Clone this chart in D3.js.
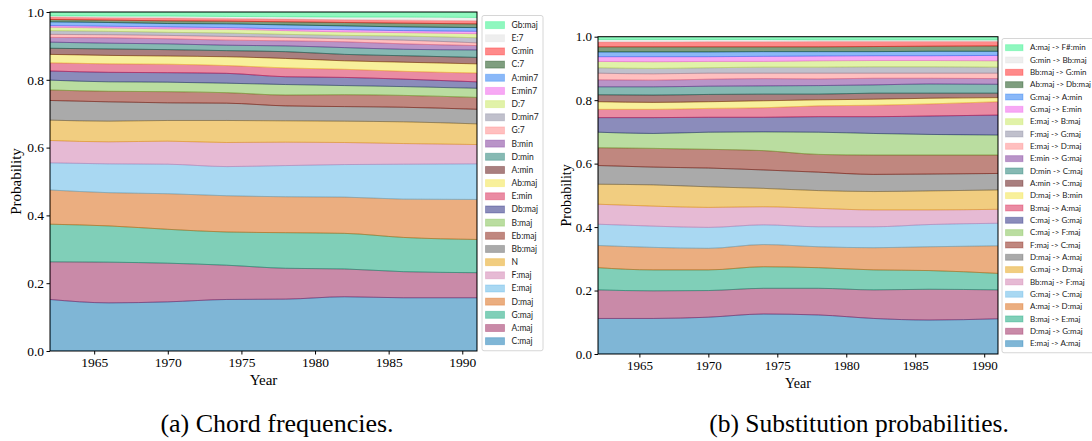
<!DOCTYPE html>
<html>
<head>
<meta charset="utf-8">
<script src="https://cdn.jsdelivr.net/npm/d3@7"></script>
<style>
  body { margin: 0; background: #fff; }
  svg { display: block; }
  .tick text { font-family: "Liberation Serif", serif; fill: #000; }
  .legend text { font-family: Lato, "Open Sans", sans-serif; fill: #222; }
</style>
</head>
<body>
<svg id="chart" width="1092" height="441"></svg>
<script>
// years
var years = [1962, 1966, 1970, 1974, 1978, 1982, 1986, 1991];
var xTicks = [1965, 1970, 1975, 1980, 1985, 1990];
var yTicks = [0, 0.2, 0.4, 0.6, 0.8, 1.0];

// stacking order, bottom first
var chordNames = ["C:maj", "A:maj", "G:maj", "D:maj", "E:maj", "F:maj", "N", "Bb:maj", "Eb:maj",
  "B:maj", "Db:maj", "E:min", "Ab:maj", "A:min", "D:min", "B:min", "G:7", "D:min7", "D:7",
  "E:min7", "A:min7", "C:7", "G:min", "E:7", "Gb:maj"];
var chordValues = [
  [0.152, 0.142, 0.145, 0.152, 0.153, 0.160, 0.157, 0.157],
  [0.111, 0.120, 0.114, 0.101, 0.091, 0.082, 0.077, 0.074],
  [0.111, 0.107, 0.100, 0.098, 0.105, 0.105, 0.101, 0.098],
  [0.101, 0.098, 0.105, 0.107, 0.106, 0.107, 0.113, 0.118],
  [0.080, 0.085, 0.087, 0.086, 0.092, 0.096, 0.103, 0.105],
  [0.066, 0.065, 0.068, 0.071, 0.069, 0.065, 0.061, 0.057],
  [0.060, 0.061, 0.061, 0.065, 0.063, 0.063, 0.064, 0.061],
  [0.058, 0.057, 0.052, 0.051, 0.044, 0.043, 0.043, 0.043],
  [0.031, 0.031, 0.033, 0.031, 0.032, 0.035, 0.035, 0.035],
  [0.029, 0.028, 0.028, 0.028, 0.031, 0.027, 0.026, 0.027],
  [0.027, 0.028, 0.028, 0.029, 0.023, 0.024, 0.022, 0.019],
  [0.024, 0.025, 0.025, 0.023, 0.026, 0.024, 0.023, 0.026],
  [0.025, 0.025, 0.024, 0.026, 0.028, 0.025, 0.027, 0.027],
  [0.018, 0.019, 0.019, 0.018, 0.020, 0.019, 0.019, 0.019],
  [0.018, 0.017, 0.017, 0.016, 0.017, 0.020, 0.019, 0.022],
  [0.014, 0.016, 0.015, 0.015, 0.015, 0.017, 0.016, 0.013],
  [0.009, 0.009, 0.010, 0.011, 0.010, 0.009, 0.011, 0.008],
  [0.011, 0.010, 0.009, 0.010, 0.009, 0.010, 0.012, 0.015],
  [0.010, 0.010, 0.010, 0.011, 0.011, 0.010, 0.010, 0.012],
  [0.005, 0.005, 0.006, 0.005, 0.005, 0.007, 0.006, 0.007],
  [0.011, 0.011, 0.010, 0.011, 0.012, 0.011, 0.011, 0.011],
  [0.007, 0.007, 0.008, 0.008, 0.009, 0.010, 0.011, 0.011],
  [0.007, 0.007, 0.008, 0.008, 0.008, 0.008, 0.009, 0.009],
  [0.004, 0.005, 0.006, 0.006, 0.007, 0.008, 0.009, 0.010],
  [0.011, 0.012, 0.012, 0.013, 0.014, 0.015, 0.015, 0.016]
];

var substitutionNames = ["E:maj -> A:maj", "D:maj -> G:maj", "B:maj -> E:maj", "A:maj -> D:maj",
  "G:maj -> C:maj", "Bb:maj -> F:maj", "G:maj -> D:maj", "D:maj -> A:maj", "F:maj -> C:maj",
  "C:maj -> F:maj", "C:maj -> G:maj", "B:maj -> A:maj", "D:maj -> B:min", "A:min -> C:maj",
  "D:min -> C:maj", "E:min -> G:maj", "E:maj -> D:maj", "F:maj -> G:maj", "E:maj -> B:maj",
  "G:maj -> E:min", "G:maj -> A:min", "Ab:maj -> Db:maj", "Bb:maj -> G:min", "G:min -> Bb:maj",
  "A:maj -> F#:min"];
var substitutionValues = [
  [0.112, 0.112, 0.116, 0.126, 0.123, 0.112, 0.107, 0.111],
  [0.090, 0.087, 0.084, 0.081, 0.084, 0.090, 0.097, 0.091],
  [0.070, 0.066, 0.065, 0.068, 0.065, 0.063, 0.059, 0.052],
  [0.070, 0.071, 0.068, 0.070, 0.066, 0.070, 0.075, 0.087],
  [0.067, 0.067, 0.066, 0.062, 0.063, 0.066, 0.070, 0.071],
  [0.063, 0.063, 0.063, 0.057, 0.058, 0.053, 0.046, 0.044],
  [0.063, 0.067, 0.065, 0.058, 0.056, 0.058, 0.060, 0.061],
  [0.059, 0.056, 0.059, 0.058, 0.058, 0.054, 0.053, 0.052],
  [0.056, 0.059, 0.059, 0.061, 0.056, 0.061, 0.060, 0.058],
  [0.049, 0.047, 0.054, 0.059, 0.070, 0.068, 0.065, 0.063],
  [0.046, 0.050, 0.047, 0.046, 0.049, 0.053, 0.058, 0.063],
  [0.026, 0.026, 0.028, 0.030, 0.034, 0.036, 0.038, 0.042],
  [0.024, 0.022, 0.021, 0.022, 0.019, 0.019, 0.018, 0.013],
  [0.022, 0.023, 0.023, 0.021, 0.018, 0.019, 0.016, 0.014],
  [0.025, 0.026, 0.026, 0.026, 0.027, 0.026, 0.029, 0.028],
  [0.022, 0.021, 0.022, 0.023, 0.021, 0.021, 0.018, 0.018],
  [0.021, 0.020, 0.019, 0.017, 0.018, 0.016, 0.016, 0.017],
  [0.017, 0.017, 0.017, 0.019, 0.019, 0.020, 0.020, 0.019],
  [0.020, 0.021, 0.020, 0.018, 0.020, 0.020, 0.020, 0.020],
  [0.015, 0.016, 0.015, 0.016, 0.015, 0.015, 0.015, 0.017],
  [0.015, 0.015, 0.015, 0.015, 0.014, 0.013, 0.014, 0.013],
  [0.016, 0.016, 0.016, 0.015, 0.015, 0.016, 0.016, 0.017],
  [0.015, 0.015, 0.016, 0.016, 0.017, 0.016, 0.015, 0.014],
  [0.008, 0.008, 0.007, 0.007, 0.005, 0.005, 0.005, 0.005],
  [0.009, 0.009, 0.009, 0.009, 0.010, 0.010, 0.010, 0.010]
];

// drawn at half opacity, like the original
var palette = ["#006dad", "#931551", "#019f71", "#d75d01", "#53b1e5", "#cd75a9", "#e39b01",
  "#555555", "#810f00", "#75bb41", "#171977", "#d51747", "#f1e137", "#530000", "#0d7367",
  "#732991", "#ff7f7f", "#818199", "#c3e551", "#ef51e9", "#1571f1", "#003d00", "#ff1515",
  "#dddddd", "#1fef7f"];

var svg = d3.select("#chart");

function drawPanel(opt) {
  var x = d3.scaleLinear().domain([1962, 1991]).range([opt.left, opt.right]);
  var y = d3.scaleLinear().domain([0, 1]).range([opt.bottom, opt.top]);

  var rows = years.map(function (yr, i) {
    var r = { year: yr };
    opt.names.forEach(function (n, k) { r[n] = opt.values[k][i]; });
    return r;
  });
  var series = d3.stack().keys(opt.names)(rows);

  var g = svg.append("g");
  var clipId = "clip" + opt.id;
  g.append("clipPath").attr("id", clipId).append("rect")
    .attr("x", opt.left).attr("y", opt.top)
    .attr("width", opt.right - opt.left).attr("height", opt.bottom - opt.top);

  var area = d3.area()
    .curve(d3.curveMonotoneX)
    .x(function (d) { return x(d.data.year); })
    .y0(function (d) { return y(d[0]); })
    .y1(function (d) { return y(d[1]); });

  g.append("g").attr("clip-path", "url(#" + clipId + ")")
    .selectAll("path")
    .data(series)
    .enter().append("path")
    .attr("d", area)
    .attr("fill", function (d, i) { return palette[i]; })
    .attr("fill-opacity", 0.5)
    .attr("stroke", function (d, i) { return palette[i]; })
    .attr("stroke-opacity", 0.45)
    .attr("stroke-width", 1);

  var gx = g.append("g")
    .attr("transform", "translate(0," + opt.bottom + ")")
    .call(d3.axisBottom(x).tickValues(xTicks).tickFormat(d3.format("d")).tickSize(3.5).tickPadding(3));
  var gy = g.append("g")
    .attr("transform", "translate(" + opt.left + ",0)")
    .call(d3.axisLeft(y).tickValues(yTicks).tickFormat(d3.format(".1f")).tickSize(3.5).tickPadding(2.5));
  [gx, gy].forEach(function (a) {
    a.select(".domain").remove();
    a.selectAll("text").style("font-size", opt.tickFont + "px");
  });

  g.append("rect")
    .attr("x", opt.left).attr("y", opt.top)
    .attr("width", opt.right - opt.left).attr("height", opt.bottom - opt.top)
    .attr("fill", "none").attr("stroke", "#000").attr("stroke-width", 1);

  g.append("text")
    .attr("x", (opt.left + opt.right) / 2).attr("y", opt.bottom + 34)
    .attr("text-anchor", "middle")
    .style("font-family", "Liberation Serif, serif").style("font-size", opt.labelFont + "px")
    .text("Year");
  g.append("text")
    .attr("transform", "translate(" + opt.ylabelX + "," + ((opt.top + opt.bottom) / 2) + ") rotate(-90)")
    .attr("text-anchor", "middle")
    .style("font-family", "Liberation Serif, serif").style("font-size", opt.labelFont + "px")
    .text("Probability");

  // legend, top entry is the last series
  var lg = g.append("g").attr("class", "legend");
  var n = opt.names.length;
  lg.append("rect")
    .attr("x", opt.legX).attr("y", opt.legY)
    .attr("width", opt.legW).attr("height", opt.legStep * n + 6)
    .attr("rx", 2)
    .attr("fill", "#fff").attr("fill-opacity", 0.8)
    .attr("stroke", "#d6d6d6").attr("stroke-width", 1);
  var item = lg.selectAll(".item")
    .data(opt.names.slice().reverse())
    .enter().append("g")
    .attr("class", "item")
    .attr("transform", function (d, i) {
      return "translate(" + (opt.legX + 3.5) + "," + (opt.legY + 3 + opt.legStep * (i + 0.5)) + ")";
    });
  item.append("rect")
    .attr("x", 0).attr("y", -opt.swH / 2)
    .attr("width", opt.swW).attr("height", opt.swH)
    .attr("fill", function (d, i) { return palette[n - 1 - i]; })
    .attr("fill-opacity", 0.5)
    .attr("stroke", function (d, i) { return palette[n - 1 - i]; })
    .attr("stroke-opacity", 0.3);
  item.append("text")
    .attr("x", opt.swW + 7).attr("dy", "0.34em")
    .style("font-size", opt.legFont + "px")
    .text(function (d) { return d; });

  svg.append("text")
    .attr("x", opt.capX).attr("y", 432)
    .attr("text-anchor", "middle")
    .style("font-family", "Liberation Serif, serif").style("font-size", opt.capFont + "px")
    .text(opt.caption);
}

drawPanel({
  id: "a", names: chordNames, values: chordValues,
  left: 50, right: 477, top: 12, bottom: 351,
  tickFont: 13.5, labelFont: 15, ylabelX: 21,
  legX: 482, legY: 15.5, legW: 61, legStep: 13.17, swW: 19, swH: 7, legFont: 8.5,
  capX: 277, capFont: 26, caption: "(a) Chord frequencies."
});

drawPanel({
  id: "b", names: substitutionNames, values: substitutionValues,
  left: 598, right: 998, top: 36.7, bottom: 354,
  tickFont: 13, labelFont: 14, ylabelX: 571,
  legX: 1002, legY: 38.5, legW: 100, legStep: 12.33, swW: 17.5, swH: 6, legFont: 8,
  capX: 859, capFont: 25.5, caption: "(b) Substitution probabilities."
});
</script>
</body>
</html>
